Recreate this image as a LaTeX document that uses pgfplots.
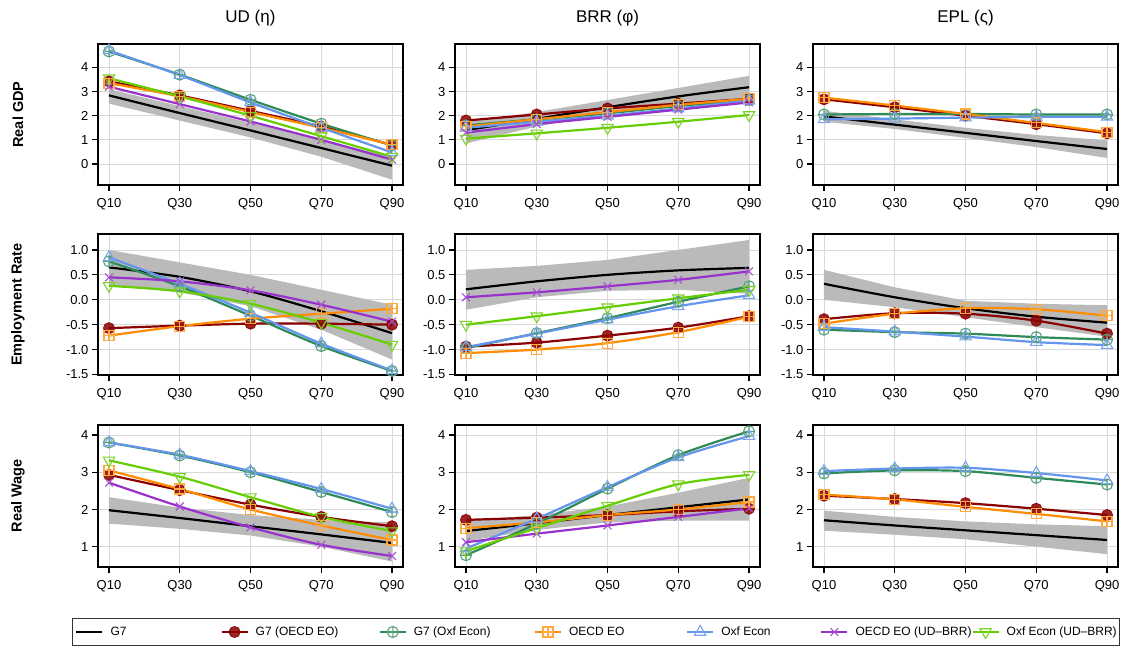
\documentclass[border=0pt]{standalone}
\usepackage{pgfplots}
\pgfplotsset{compat=1.18}
\usepackage{fontspec}
\setmainfont{Liberation Sans}
\definecolor{cGOE}{HTML}{8B0000}
\definecolor{cGOX}{HTML}{2E8B57}
\definecolor{cOE}{HTML}{FF8C00}
\definecolor{cOX}{HTML}{6495ED}
\definecolor{cOEU}{HTML}{9932CC}
\definecolor{cOXU}{HTML}{66CD00}
\pgfdeclareplotmark{squareplus}{%
  \pgfpathrectangle{\pgfpoint{-\pgfplotmarksize}{-\pgfplotmarksize}}{\pgfpoint{2\pgfplotmarksize}{2\pgfplotmarksize}}%
  \pgfpathmoveto{\pgfpoint{-\pgfplotmarksize}{0pt}}\pgfpathlineto{\pgfpoint{\pgfplotmarksize}{0pt}}%
  \pgfpathmoveto{\pgfpoint{0pt}{-\pgfplotmarksize}}\pgfpathlineto{\pgfpoint{0pt}{\pgfplotmarksize}}%
  \pgfusepathqstroke}
\pgfplotsset{
  panel/.style={
    scale only axis, width=305pt, anchor=south west,
    xmin=-0.155, xmax=4.155, xtick={0,1,2,3,4}, xticklabels={Q10,Q30,Q50,Q70,Q90},
    tick align=outside, tick pos=left, major tick length=6pt,
    grid=major, grid style={line width=0.8pt, color=black!15},
    axis line style={line width=1.8pt},
    every tick/.style={black, line width=1.2pt},
    tick label style={font=\fontsize{13}{13}\selectfont},
    xticklabel style={yshift=-4pt},
    /pgf/number format/assume math mode=true,
    every axis title/.style={at={(axis description cs:0.5,1.184)}, anchor=center, font=\fontsize{17}{17}\selectfont},
    every axis y label/.style={at={(axis description cs:-0.2623,0.5)}, rotate=90, anchor=center, font=\bfseries\fontsize{14.5}{14.5}\selectfont},
  },
  r1/.style={height=141pt, ymin=-0.87, ymax=4.97, ytick={0,1,2,3,4}},
  r2/.style={height=141pt, ymin=-1.51, ymax=1.32, ytick={-1.5,-1,-0.5,0,0.5,1}, yticklabels={-1.5,-1.0,-0.5,0.0,0.5,1.0}},
  r3/.style={height=142pt, ymin=0.454, ymax=4.27, ytick={1,2,3,4}},
  band/.style={draw=none, fill=black!27, forget plot},
  sG7/.style={black, line width=2.2pt, smooth, no markers},
  sGOE/.style={cGOE, line width=2.2pt, smooth, mark=*, mark size=5.5pt, mark options={solid, fill=cGOE, draw=cGOE, opacity=0.85, line width=1pt}},
  sGOX/.style={cGOX, line width=2.2pt, smooth, mark=oplus, mark size=5.5pt, mark options={solid, draw=cGOX!80!white, line width=1.1pt}},
  sOE/.style={cOE, line width=2.2pt, smooth, mark=squareplus, mark size=5pt, mark options={solid, draw=cOE!75!white, line width=1.1pt}},
  sOX/.style={cOX, line width=2.2pt, smooth, mark=triangle, mark size=6.5pt, mark options={solid, draw=cOX!85!white, line width=1.1pt}},
  sOEU/.style={cOEU, line width=2.2pt, smooth, mark=x, mark size=5.5pt, mark options={solid, draw=cOEU!85!white, line width=1.1pt}},
  sOXU/.style={cOXU, line width=2.2pt, smooth, mark=triangle, mark size=6.5pt, mark options={solid, rotate=180, draw=cOXU!85!white, line width=1.1pt}},
}
\begin{document}
\begin{tikzpicture}
\useasboundingbox (0,0) rectangle (1127pt,648pt);
% ---------------- Row 1: Real GDP
\begin{axis}[panel, r1, at={(98pt,463pt)}, title={UD (η)}, ylabel={Real GDP}]
\addplot[band] coordinates {(0,3.1)(1,2.4)(2,1.7)(3,1.0)(4,0.3)(4,-0.65)(3,0.3)(2,1.1)(1,1.8)(0,2.5)} -- cycle;
\addplot[sG7] coordinates {(0,2.84)(1,2.11)(2,1.39)(3,0.66)(4,-0.07)};
\addplot[sGOE] coordinates {(0,3.42)(1,2.84)(2,2.2)(3,1.55)(4,0.79)};
\addplot[sGOX] coordinates {(0,4.66)(1,3.7)(2,2.66)(3,1.67)(4,0.77)};
\addplot[sOE] coordinates {(0,3.35)(1,2.8)(2,2.15)(3,1.5)(4,0.8)};
\addplot[sOX] coordinates {(0,4.7)(1,3.68)(2,2.55)(3,1.5)(4,0.48)};
\addplot[sOEU] coordinates {(0,3.2)(1,2.48)(2,1.76)(3,1.0)(4,0.18)};
\addplot[sOXU] coordinates {(0,3.55)(1,2.8)(2,2.0)(3,1.15)(4,0.3)};
\end{axis}
\begin{axis}[panel, r1, at={(455pt,463pt)}, title={BRR (φ)}]
\addplot[band] coordinates {(0,1.75)(1,2.15)(2,2.65)(3,3.15)(4,3.65)(4,2.75)(3,2.45)(2,2.1)(1,1.55)(0,0.85)} -- cycle;
\addplot[sG7] coordinates {(0,1.4)(1,1.87)(2,2.35)(3,2.8)(4,3.18)};
\addplot[sGOE] coordinates {(0,1.8)(1,2.05)(2,2.3)(3,2.5)(4,2.7)};
\addplot[sGOX] coordinates {(0,1.6)(1,1.85)(2,2.1)(3,2.4)(4,2.65)};
\addplot[sOE] coordinates {(0,1.55)(1,1.85)(2,2.15)(3,2.45)(4,2.7)};
\addplot[sOX] coordinates {(0,1.5)(1,1.75)(2,2.0)(3,2.3)(4,2.62)};
\addplot[sOEU] coordinates {(0,1.3)(1,1.65)(2,1.95)(3,2.25)(4,2.55)};
\addplot[sOXU] coordinates {(0,1.05)(1,1.27)(2,1.5)(3,1.75)(4,2.03)};
\end{axis}
\begin{axis}[panel, r1, at={(813pt,463pt)}, title={EPL (ς)}]
\addplot[band] coordinates {(0,2.2)(1,1.85)(2,1.5)(3,1.2)(4,0.98)(4,0.25)(3,0.7)(2,1.08)(1,1.45)(0,1.75)} -- cycle;
\addplot[sG7] coordinates {(0,1.97)(1,1.63)(2,1.29)(3,0.95)(4,0.62)};
\addplot[sGOE] coordinates {(0,2.68)(1,2.35)(2,2.0)(3,1.65)(4,1.27)};
\addplot[sGOX] coordinates {(0,2.05)(1,2.07)(2,2.07)(3,2.05)(4,2.05)};
\addplot[sOE] coordinates {(0,2.75)(1,2.42)(2,2.07)(3,1.7)(4,1.32)};
\addplot[sOX] coordinates {(0,1.85)(1,1.88)(2,1.92)(3,1.95)(4,1.95)};
\end{axis}
% ---------------- Row 2: Employment Rate
\begin{axis}[panel, r2, at={(98pt,273pt)}, ylabel={Employment Rate}]
\addplot[band] coordinates {(0,1.0)(1,0.75)(2,0.5)(3,0.2)(4,-0.1)(4,-1.2)(3,-0.6)(2,-0.13)(1,0.15)(0,0.3)} -- cycle;
\addplot[sG7] coordinates {(0,0.65)(1,0.46)(2,0.17)(3,-0.23)(4,-0.67)};
\addplot[sGOE] coordinates {(0,-0.57)(1,-0.52)(2,-0.48)(3,-0.48)(4,-0.5)};
\addplot[sGOX] coordinates {(0,0.77)(1,0.27)(2,-0.32)(3,-0.93)(4,-1.43)};
\addplot[sOE] coordinates {(0,-0.72)(1,-0.53)(2,-0.38)(3,-0.28)(4,-0.18)};
\addplot[sOX] coordinates {(0,0.85)(1,0.32)(2,-0.26)(3,-0.88)(4,-1.42)};
\addplot[sOEU] coordinates {(0,0.45)(1,0.37)(2,0.19)(3,-0.1)(4,-0.44)};
\addplot[sOXU] coordinates {(0,0.28)(1,0.17)(2,-0.08)(3,-0.46)(4,-0.9)};
\end{axis}
\begin{axis}[panel, r2, at={(455pt,273pt)}]
\addplot[band] coordinates {(0,0.6)(1,0.68)(2,0.8)(3,1.0)(4,1.2)(4,0.12)(3,0.2)(2,0.18)(1,0.05)(0,-0.2)} -- cycle;
\addplot[sG7] coordinates {(0,0.21)(1,0.37)(2,0.5)(3,0.59)(4,0.64)};
\addplot[sGOE] coordinates {(0,-0.94)(1,-0.86)(2,-0.72)(3,-0.56)(4,-0.33)};
\addplot[sGOX] coordinates {(0,-0.97)(1,-0.67)(2,-0.37)(3,-0.04)(4,0.27)};
\addplot[sOE] coordinates {(0,-1.07)(1,-1.0)(2,-0.87)(3,-0.65)(4,-0.34)};
\addplot[sOX] coordinates {(0,-0.95)(1,-0.68)(2,-0.4)(3,-0.13)(4,0.09)};
\addplot[sOEU] coordinates {(0,0.05)(1,0.15)(2,0.27)(3,0.4)(4,0.57)};
\addplot[sOXU] coordinates {(0,-0.5)(1,-0.33)(2,-0.15)(3,0.03)(4,0.2)};
\end{axis}
\begin{axis}[panel, r2, at={(813pt,273pt)}]
\addplot[band] coordinates {(0,0.6)(1,0.25)(2,-0.02)(3,-0.08)(4,-0.11)(4,-0.74)(3,-0.55)(2,-0.35)(1,-0.15)(0,0.0)} -- cycle;
\addplot[sG7] coordinates {(0,0.32)(1,0.05)(2,-0.17)(3,-0.34)(4,-0.46)};
\addplot[sGOE] coordinates {(0,-0.39)(1,-0.27)(2,-0.28)(3,-0.42)(4,-0.68)};
\addplot[sGOX] coordinates {(0,-0.6)(1,-0.65)(2,-0.68)(3,-0.75)(4,-0.8)};
\addplot[sOE] coordinates {(0,-0.48)(1,-0.28)(2,-0.17)(3,-0.19)(4,-0.32)};
\addplot[sOX] coordinates {(0,-0.55)(1,-0.64)(2,-0.74)(3,-0.85)(4,-0.91)};
\end{axis}
% ---------------- Row 3: Real Wage
\begin{axis}[panel, r3, at={(98pt,81pt)}, ylabel={Real Wage},
  legend columns=7, legend cell align=left,
  legend style={at={(axis description cs:1.6328,-0.4577)}, anchor=center, draw=black!80, line width=0.8pt, fill=white,
    font=\fontsize{12}{12}\selectfont, inner xsep=3pt, inner ysep=6.5pt, nodes={inner xsep=0pt, inner ysep=2pt},
    /tikz/every odd column/.style={column sep=7pt}},
  legend image code/.code={\draw[mark repeat=2,mark phase=2,#1] plot coordinates {(0pt,0pt) (13pt,0pt) (26pt,0pt)};}]
\addplot[band] coordinates {(0,2.33)(1,2.05)(2,1.85)(3,1.72)(4,1.65)(4,0.6)(3,1.0)(2,1.3)(1,1.48)(0,1.62)} -- cycle;
\addplot[sG7] coordinates {(0,1.98)(1,1.77)(2,1.55)(3,1.33)(4,1.1)};
\addlegendentry{\makebox[110pt][l]{G7}}
\addplot[sGOE] coordinates {(0,2.93)(1,2.52)(2,2.13)(3,1.8)(4,1.55)};
\addlegendentry{\makebox[123pt][l]{G7 (OECD EO)}}
\addplot[sGOX] coordinates {(0,3.8)(1,3.45)(2,3.0)(3,2.47)(4,1.93)};
\addlegendentry{\makebox[120pt][l]{G7 (Oxf Econ)}}
\addplot[sOE] coordinates {(0,3.05)(1,2.55)(2,2.0)(3,1.57)(4,1.18)};
\addlegendentry{\makebox[117pt][l]{OECD EO}}
\addplot[sOX] coordinates {(0,3.8)(1,3.47)(2,3.03)(3,2.55)(4,2.02)};
\addlegendentry{\makebox[99pt][l]{Oxf Econ}}
\addplot[sOEU] coordinates {(0,2.72)(1,2.08)(2,1.52)(3,1.05)(4,0.75)};
\addlegendentry{\makebox[116pt][l]{OECD EO (UD–BRR)}}
\addplot[sOXU] coordinates {(0,3.32)(1,2.88)(2,2.33)(3,1.8)(4,1.42)};
\addlegendentry{\makebox[110pt][l]{Oxf Econ (UD–BRR)}}
\end{axis}
\begin{axis}[panel, r3, at={(455pt,81pt)}]
\addplot[band] coordinates {(0,1.7)(1,1.85)(2,2.08)(3,2.45)(4,2.85)(4,1.7)(3,1.7)(2,1.65)(1,1.45)(0,1.15)} -- cycle;
\addplot[sG7] coordinates {(0,1.42)(1,1.63)(2,1.85)(3,2.06)(4,2.27)};
\addplot[sGOE] coordinates {(0,1.72)(1,1.78)(2,1.85)(3,1.95)(4,2.02)};
\addplot[sGOX] coordinates {(0,0.77)(1,1.62)(2,2.56)(3,3.46)(4,4.1)};
\addplot[sOE] coordinates {(0,1.5)(1,1.65)(2,1.85)(3,2.0)(4,2.2)};
\addplot[sOX] coordinates {(0,0.95)(1,1.75)(2,2.6)(3,3.4)(4,3.97)};
\addplot[sOEU] coordinates {(0,1.12)(1,1.35)(2,1.57)(3,1.8)(4,2.03)};
\addplot[sOXU] coordinates {(0,0.88)(1,1.5)(2,2.1)(3,2.68)(4,2.93)};
\end{axis}
\begin{axis}[panel, r3, at={(813pt,81pt)}]
\addplot[band] coordinates {(0,1.97)(1,1.8)(2,1.68)(3,1.6)(4,1.55)(4,0.8)(3,1.0)(2,1.2)(1,1.32)(0,1.43)} -- cycle;
\addplot[sG7] coordinates {(0,1.71)(1,1.57)(2,1.44)(3,1.31)(4,1.18)};
\addplot[sGOE] coordinates {(0,2.37)(1,2.28)(2,2.17)(3,2.02)(4,1.85)};
\addplot[sGOX] coordinates {(0,2.97)(1,3.05)(2,3.03)(3,2.85)(4,2.67)};
\addplot[sOE] coordinates {(0,2.4)(1,2.27)(2,2.07)(3,1.88)(4,1.68)};
\addplot[sOX] coordinates {(0,3.03)(1,3.1)(2,3.12)(3,2.98)(4,2.78)};
\end{axis}
\end{tikzpicture}
\end{document}
